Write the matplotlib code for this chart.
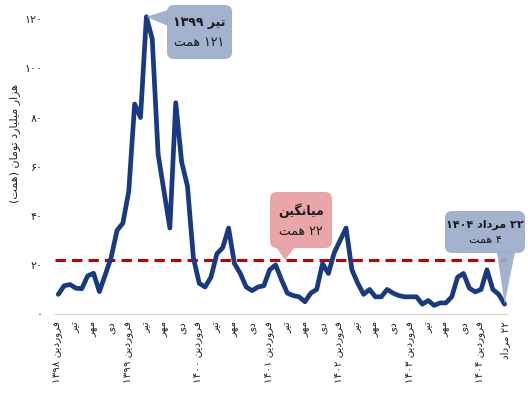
import re
import matplotlib
matplotlib.use('Agg')
import matplotlib.pyplot as plt
from matplotlib.patches import FancyBboxPatch, Polygon

plt.rcParams['font.family'] = ['DejaVu Sans']

# monthly values, farvardin 1398 .. mordad 1404 (hezar miliard toman)
values = [8, 11.5, 12, 10.5, 10.3, 15.5, 16.6, 9.1, 16, 23,
          34, 37, 50, 85.5, 80, 121, 112, 65, 50, 35,
          86, 62, 52, 23, 12.5, 11, 15, 24.5, 27, 35,
          20.5, 16.5, 11, 9.5, 11, 11.5, 18, 20, 14, 8.5,
          7.5, 7, 5, 8.5, 10, 20.5, 16.5, 25, 30, 35,
          18, 12.5, 8, 10, 7, 7, 10, 8.5, 7.5, 7,
          7, 7, 4, 5.5, 3.5, 4.5, 4.5, 7, 15, 16.5,
          10.5, 9, 10, 18, 10, 8, 4]
mean_value = 22

years = [1398, 1399, 1400, 1401, 1402, 1403, 1404]
months = ['فروردین', 'تیر', 'مهر', 'دی']
last_day = '۲۲ مرداد'
peak_month = 'تیر'
unit = 'همت'
mean_name = 'میانگین'
y_title = 'هزار میلیارد تومان (همت)'
y_ticks = [0, 20, 40, 60, 80, 100, 120]

# contextual forms: isolated, final, initial, medial
FORMS = {
    'ا': ('\ufe8d', '\ufe8e', None, None),
    'ب': ('\ufe8f', '\ufe90', '\ufe91', '\ufe92'),
    'ت': ('\ufe95', '\ufe96', '\ufe97', '\ufe98'),
    'د': ('\ufea9', '\ufeaa', None, None),
    'ر': ('\ufead', '\ufeae', None, None),
    'ز': ('\ufeaf', '\ufeb0', None, None),
    'ف': ('\ufed1', '\ufed2', '\ufed3', '\ufed4'),
    'ل': ('\ufedd', '\ufede', '\ufedf', '\ufee0'),
    'م': ('\ufee1', '\ufee2', '\ufee3', '\ufee4'),
    'ن': ('\ufee5', '\ufee6', '\ufee7', '\ufee8'),
    'ه': ('\ufee9', '\ufeea', '\ufeeb', '\ufeec'),
    'و': ('\ufeed', '\ufeee', None, None),
    'ی': ('\ufbfc', '\ufbfd', '\ufbfe', '\ufbff'),
    'گ': ('\ufb92', '\ufb93', '\ufb94', '\ufb95'),
}
DIGITS = str.maketrans('0123456789', '۰۱۲۳۴۵۶۷۸۹')


def shape(text):
    out = []
    for i, ch in enumerate(text):
        f = FORMS.get(ch)
        if f is None:
            out.append(ch)
            continue
        prev = text[i - 1] if i > 0 else ''
        nxt = text[i + 1] if i + 1 < len(text) else ''
        jp = prev in FORMS and FORMS[prev][2] is not None
        jn = f[2] is not None and nxt in FORMS
        if jp and jn:
            out.append(f[3])
        elif jp:
            out.append(f[1])
        elif jn:
            out.append(f[2])
        else:
            out.append(f[0])
    return ''.join(out)


def fa(text):
    # shape, then lay out right-to-left keeping digit runs in order
    s = shape(text.translate(DIGITS))[::-1]
    s = re.sub('[\u06f0-\u06f9]+', lambda m: m.group(0)[::-1], s)
    return s.translate(str.maketrans('()', ')('))


W, H = 528, 399
fig = plt.figure(figsize=(W / 100, H / 100), dpi=100)
ax = fig.add_axes([55 / W, 1 - 314 / H, 452 / W, 307 / H])

x = list(range(len(values)))
ax.axhline(mean_value, color='#c00000', lw=2.2, dashes=(3.4, 2.0), zorder=2)
ax.plot(x, values, color='#173a80', lw=3.4, solid_joinstyle='round',
        solid_capstyle='round', zorder=3, clip_on=False)

ax.set_xlim(-0.56, len(values) - 1 + 0.41)
ax.set_ylim(0, 125)

tick_pos = list(range(0, 73, 3)) + [len(values) - 1]
tick_lab = []
for p in tick_pos[:-1]:
    m = months[(p // 3) % 4]
    if p % 12 == 0:
        m = m + ' ' + str(years[p // 12])
    tick_lab.append(fa(m))
tick_lab.append(fa(last_day))
ax.set_xticks(tick_pos)
ax.set_xticklabels(tick_lab, rotation=90, fontsize=7.5, va='top', ha='center')
ax.set_yticks(y_ticks)
ax.set_yticklabels([fa(str(v)) for v in y_ticks], fontsize=8)
ax.tick_params(axis='both', length=0, colors='#222222')
ax.tick_params(axis='x', pad=5)
ax.tick_params(axis='y', pad=9)

for s in ['left', 'right', 'top']:
    ax.spines[s].set_visible(False)
ax.spines['bottom'].set_color('#d9d9d9')
ax.spines['bottom'].set_linewidth(1)

fig.text(15 / W, 1 - 143 / H, fa(y_title), rotation=90, fontsize=8,
         ha='center', va='center', color='#222222')


def inch(px, py):
    return px / 100, (H - py) / 100


def tip_of(i, v):
    dx, dy = ax.transData.transform((i, v))
    return dx / 100, dy / 100


def callout(x0, y0, x1, y1, color, base, tip, line1, line2, fs=8.5):
    bx, by = inch(x0, y1)
    fig.add_artist(FancyBboxPatch((bx, by), (x1 - x0) / 100, (y1 - y0) / 100,
                                  boxstyle='round,pad=0,rounding_size=0.07',
                                  transform=fig.dpi_scale_trans, fc=color,
                                  ec='none', alpha=0.92, zorder=5))
    pts = [inch(*base[0]), inch(*base[1]), tip]
    fig.add_artist(Polygon(pts, closed=True, transform=fig.dpi_scale_trans,
                           fc=color, ec='none', alpha=0.92, zorder=5))
    cx = (x0 + x1) / 2 / W
    h = y1 - y0
    fig.text(cx, 1 - (y0 + h * 0.33) / H, line1, fontsize=fs,
             fontweight='bold', ha='center', va='center', color='#1a1a1a',
             zorder=6)
    fig.text(cx, 1 - (y0 + h * 0.7) / H, line2, fontsize=fs,
             ha='center', va='center', color='#1a1a1a', zorder=6)


blue_box = '#9aaccb'
pink_box = '#e99ea1'

peak_i = values.index(max(values))
peak_v = values[peak_i]
callout(167, 5, 232, 59, blue_box, [(168, 10), (168, 26)],
        tip_of(peak_i, peak_v),
        fa(peak_month + ' ' + str(years[peak_i // 12])),
        fa(str(peak_v) + ' ' + unit), fs=9)

callout(270, 192, 332, 248, pink_box, [(276, 247), (295, 247)],
        tip_of(38.6, mean_value),
        fa(mean_name), fa(str(mean_value) + ' ' + unit), fs=9)

last_i = len(values) - 1
callout(445, 211, 525, 253, blue_box, [(497, 252), (515, 252)],
        tip_of(last_i, values[last_i]),
        fa(last_day + ' ' + str(years[-1])),
        fa(str(values[last_i]) + ' ' + unit), fs=8)

fig.savefig('out.png', dpi=100)
